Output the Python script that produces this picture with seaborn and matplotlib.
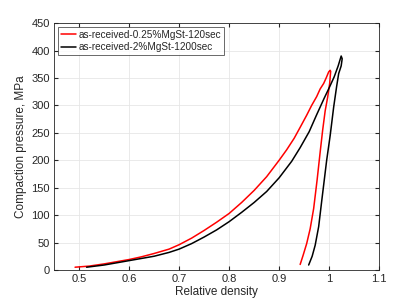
import matplotlib
matplotlib.use("Agg")
import matplotlib.pyplot as plt
import seaborn as sns
import pandas as pd

# red curve: loading then unloading
red_density = [0.492, 0.52, 0.55, 0.575, 0.60, 0.625, 0.65, 0.68, 0.70, 0.725, 0.75, 0.775,
               0.80, 0.825, 0.85, 0.875, 0.90, 0.915, 0.93, 0.942, 0.955, 0.965, 0.975,
               0.982, 0.989, 0.994, 0.999, 1.002, 1.003, 1.001, 0.997, 0.992, 0.987,
               0.982, 0.976, 0.969, 0.962, 0.955, 0.948, 0.942]
red_pressure = [5, 7, 11, 15, 19, 24, 30, 38, 46, 58, 72, 87,
                103, 123, 145, 170, 200, 219, 240, 260, 282, 300, 316,
                330, 340, 350, 361, 364, 362, 340, 315, 290, 255,
                215, 165, 112, 75, 48, 27, 10]

# black curve: loading then unloading
black_density = [0.515, 0.55, 0.575, 0.60, 0.625, 0.65, 0.68, 0.70, 0.725, 0.75, 0.775,
                 0.80, 0.825, 0.85, 0.875, 0.90, 0.925, 0.942, 0.96, 0.975, 0.99,
                 1.00, 1.01, 1.018, 1.024, 1.026, 1.024, 1.019, 1.015, 1.009,
                 1.002, 0.995, 0.989, 0.985, 0.979, 0.972, 0.966, 0.959]
black_pressure = [5, 9, 13, 17, 21, 25, 32, 38, 48, 60, 73,
                  88, 105, 123, 143, 168, 198, 223, 252, 283, 313,
                  332, 352, 372, 390, 385, 372, 358, 335, 297,
                  245, 200, 155, 125, 79, 45, 25, 9]

labels = ["as-received-0.25%MgSt-120sec", "as-received-2%MgSt-1200sec"]

df = pd.concat([
    pd.DataFrame({"density": red_density, "pressure": red_pressure, "sample": labels[0]}),
    pd.DataFrame({"density": black_density, "pressure": black_pressure, "sample": labels[1]}),
])

sns.set_style("white")
plt.rcParams["font.family"] = ["Liberation Sans", "DejaVu Sans"]

fig = plt.figure(figsize=(4.19, 3.04), dpi=100)
ax = fig.add_axes([0.129, 0.112, 0.776, 0.812])

sns.lineplot(data=df, x="density", y="pressure", hue="sample", sort=False,
             estimator=None, palette=["#ff0000", "#000000"], linewidth=1.1, ax=ax)

ax.set_xlim(0.45, 1.1)
ax.set_ylim(0, 450)
ax.set_xticks([0.5, 0.6, 0.7, 0.8, 0.9, 1.0, 1.1])
ax.set_xticklabels(["0.5", "0.6", "0.7", "0.8", "0.9", "1", "1.1"])
ax.set_yticks(range(0, 451, 50))
ax.grid(True, color="#e6e6e6", linewidth=0.6)
ax.tick_params(direction="in", length=3, labelsize=8, color="#262626", labelcolor="#262626",
               top=True, right=True, bottom=True, left=True, pad=3)
for s in ax.spines.values():
    s.set_color("#262626")
    s.set_linewidth(0.6)
ax.set_xlabel("Relative density", fontsize=8.5, color="#262626", labelpad=1)
ax.set_ylabel("Compaction pressure, MPa", fontsize=8.5, color="#262626", labelpad=3)

leg = ax.legend(loc="upper left", fontsize=7.2, frameon=True, fancybox=False,
                handlelength=1.5, handletextpad=0.3, borderpad=0.3, labelspacing=0.25,
                borderaxespad=0.35)
leg.get_frame().set_edgecolor("#262626")
leg.get_frame().set_linewidth(0.6)

fig.savefig("out.png", dpi=100)
